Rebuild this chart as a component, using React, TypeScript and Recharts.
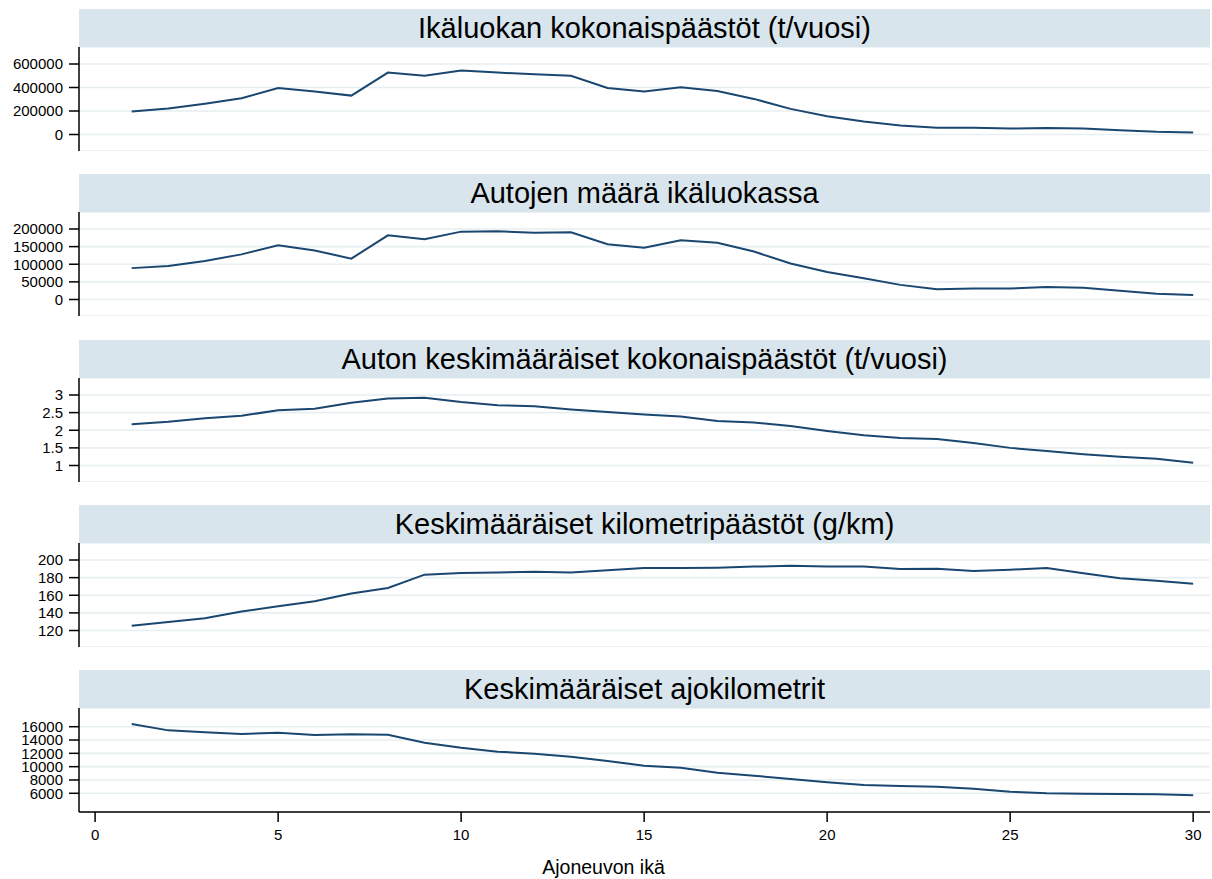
import React from 'react';
import { LineChart, Line, XAxis, YAxis, CartesianGrid } from 'recharts';

const ages = [1, 2, 3, 4, 5, 6, 7, 8, 9, 10, 11, 12, 13, 14, 15, 16, 17, 18, 19, 20, 21, 22, 23, 24, 25, 26, 27, 28, 29, 30];

const totalEmissions = [195000, 222000, 262000, 308000, 396000, 365000, 331000, 527000, 500000, 545000, 527000, 512000, 500000, 396000, 365000, 402000, 370000, 303000, 218000, 156000, 110000, 76000, 57000, 57000, 51000, 56000, 51000, 37000, 23000, 17000];
const carCount = [89000, 95000, 109000, 128000, 154000, 139000, 116000, 182000, 171000, 192500, 193500, 189000, 190500, 157000, 147000, 168000, 161000, 136000, 102000, 78000, 60000, 41500, 29000, 31000, 31000, 35500, 33000, 24500, 16000, 12500];
const avgEmissions = [2.17, 2.24, 2.34, 2.41, 2.57, 2.61, 2.78, 2.9, 2.92, 2.8, 2.71, 2.68, 2.59, 2.52, 2.45, 2.39, 2.26, 2.22, 2.12, 1.98, 1.86, 1.78, 1.75, 1.64, 1.5, 1.41, 1.32, 1.25, 1.19, 1.08];
const gramsPerKm = [125.3, 129.8, 134, 141.5, 147.5, 153.2, 162, 168.3, 183.4, 185.3, 185.7, 186.8, 185.7, 188.3, 191, 191, 191.3, 192.5, 193.5, 192.5, 192.5, 189.8, 190.2, 187.5, 189, 191, 185, 179.2, 176.6, 173.2];
const kilometres = [16400, 15450, 15150, 14900, 15100, 14750, 14850, 14800, 13600, 12850, 12250, 11950, 11500, 10850, 10150, 9850, 9100, 8650, 8150, 7650, 7250, 7100, 7000, 6700, 6250, 6000, 5950, 5900, 5850, 5700];

const titles = [
  'Ikäluokan kokonaispäästöt (t/vuosi)',
  'Autojen määrä ikäluokassa',
  'Auton keskimääräiset kokonaispäästöt (t/vuosi)',
  'Keskimääräiset kilometripäästöt (g/km)',
  'Keskimääräiset ajokilometrit',
];
const xTicks = [0, 5, 10, 15, 20, 25, 30];
const xTitle = 'Ajoneuvon ikä';

const FONT = '"Liberation Sans", Arial, Helvetica, sans-serif';
const NAVY = '#1a476f';

const panels = [
  { values: totalEmissions, ticks: [0, 200000, 400000, 600000], domain: [-140400, 744700] },
  { values: carCount, ticks: [0, 50000, 100000, 150000, 200000], domain: [-46800, 248200] },
  { values: avgEmissions, ticks: [1, 1.5, 2, 2.5, 3], domain: [0.532, 3.482] },
  { values: gramsPerKm, ticks: [120, 140, 160, 180, 200], domain: [101.3, 219.3] },
  { values: kilometres, ticks: [6000, 8000, 10000, 12000, 14000, 16000], domain: [3192, 18808] },
];

const Panel = ({ idx }: { idx: number }) => {
  const p = panels[idx];
  const last = idx === panels.length - 1;
  const data = ages.map((a, i) => ({ age: a, v: p.values[i] }));
  const top = Math.round(8.75 + 165.4 * idx);
  return (
    <div style={{ position: 'absolute', left: 0, top, width: 1212 }}>
      <div
        style={{
          marginLeft: 79,
          width: 1131,
          height: 38,
          background: '#d9e5ec',
          fontFamily: FONT,
          fontSize: 29,
          lineHeight: '38px',
          textAlign: 'center',
          color: '#000',
        }}
      >
        {titles[idx]}
      </div>
      <LineChart width={1212} height={last ? 172 : 104} data={data} margin={{ top: 0, right: 2, bottom: 0, left: 0 }}>
        <CartesianGrid horizontal vertical={false} stroke="#e7eff2" strokeWidth={1.6} />
        <XAxis
          dataKey="age"
          type="number"
          domain={[-0.44, 30.46]}
          ticks={xTicks}
          hide={!last}
          height={68}
          tickSize={10}
          tickMargin={7}
          stroke="#000"
          strokeWidth={1.5}
          tick={{ fill: '#000', fontSize: 15, fontFamily: FONT }}
          label={{ value: xTitle, position: 'insideBottom', offset: 6, dx: -41, fill: '#000', fontSize: 19.5, fontFamily: FONT }}
        />
        <YAxis
          type="number"
          domain={p.domain}
          ticks={p.ticks}
          allowDataOverflow
          width={79}
          tickSize={10}
          tickMargin={6}
          stroke="#000"
          strokeWidth={1.5}
          interval={0}
          tick={{ fill: '#000', fontSize: 15, fontFamily: FONT }}
        />
        <Line type="linear" dataKey="v" stroke={NAVY} strokeWidth={2} dot={false} isAnimationActive={false} />
      </LineChart>
    </div>
  );
};

export default function App() {
  return (
    <div style={{ position: 'absolute', left: 0, top: 0, width: 1212, height: 879, background: '#fff', overflow: 'hidden' }}>
      {panels.map((_, i) => (
        <Panel key={i} idx={i} />
      ))}
    </div>
  );
}
